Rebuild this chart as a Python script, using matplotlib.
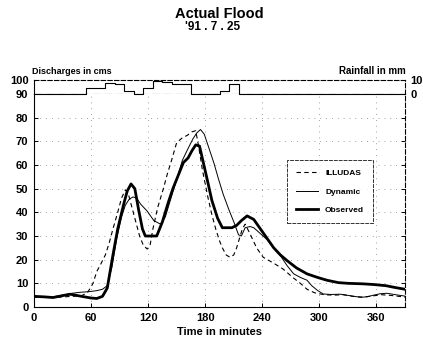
import numpy as np
import matplotlib
matplotlib.use("Agg")
import matplotlib.pyplot as plt

plt.rcParams["font.family"] = ["Liberation Sans", "DejaVu Sans"]
plt.rcParams["font.weight"] = "bold"

# discharge hydrographs (minutes, cms)
obs_t = [0, 10, 20, 30, 38, 50, 60, 66, 72, 77, 83, 88, 94, 98, 102, 106, 110, 114,
         117, 129, 135, 141, 146, 152, 157, 162, 166, 170, 174, 178, 182, 187, 193,
         198, 208, 213, 218, 224, 231, 238, 245, 252, 259, 266, 276, 287, 298, 308,
         320, 330, 345, 357, 370, 380, 390]
obs_q = [4.5, 4.3, 4.0, 4.8, 5.4, 4.5, 3.8, 3.6, 4.5, 8, 22, 33, 43, 49, 52, 50, 41, 33,
         30, 30, 36, 44, 50, 56, 61, 63, 66, 68.5, 68, 61, 54, 45, 37.5,
         33.5, 33.5, 34.5, 36.5, 38.5, 37, 33, 29, 25, 22, 19.6, 16.5, 14, 12.5, 11.3,
         10.3, 10, 9.8, 9.5, 9, 8.2, 7.5]

dyn_t = [0, 10, 20, 30, 40, 48, 58, 66, 72, 77, 82, 87, 92, 96, 100, 104, 108, 112,
         119, 126, 133, 138, 144, 150, 156, 162, 167, 171, 175, 179, 184, 189, 194,
         199, 205, 210, 215, 218, 222, 227, 231, 238, 245, 252, 259, 266, 273, 280,
         287, 292, 298, 304, 312, 322, 332, 343, 350, 357, 364, 371, 380, 390]
dyn_q = [4.5, 4.2, 4.3, 5, 5.8, 6.2, 6.5, 6.9, 7.5, 9, 17, 29, 38, 43, 45.5, 46.5, 46, 43.5,
         40.5, 36.5, 35, 38, 46, 54, 62, 67, 71, 73.5, 75, 73, 67, 61, 54,
         47.5, 41, 36, 30.5, 30, 33.5, 34, 33.5, 31, 28.5, 25, 21.7, 17.5, 14, 12.5,
         11.3, 9, 7, 5.5, 5.3, 5.4, 4.8, 4.1, 4.3, 5, 5.6, 5.8, 5.2, 4.6]

ill_t = [0, 20, 40, 50, 56, 60, 62, 66, 70, 75, 79, 83, 88, 92, 96, 99, 103, 107, 111,
         115, 119, 122, 125, 130, 136, 140, 145, 150, 156, 161, 166, 170, 173, 177,
         183, 187, 191, 195, 198, 202, 206, 210, 213, 216, 219, 222, 227, 234, 241,
         252, 262, 272, 280, 287, 295, 305, 315, 325, 335, 345, 355, 365, 375, 390]
ill_q = [4.2, 4.0, 4.5, 4.8, 6, 8.5, 10, 15, 18, 22, 27, 33, 40, 46, 49.5, 48, 42, 36, 30,
         26, 24.5, 26, 33, 42, 50, 56, 62.5, 69.5, 71.5, 72.5, 74, 74.5, 68, 58,
         46, 39, 33, 28, 25, 22, 21, 22, 25, 29, 33, 35, 31, 25, 21,
         18.5, 16, 12.5, 10, 7.5, 6, 5.2, 5, 5.2, 4.5, 4.2, 4.6, 5.2, 4.9, 4.2]

# rainfall hyetograph (step start times, mm)
rain_t = [0, 55, 65, 75, 85, 95, 105, 115, 125, 135, 145, 155, 165, 195, 205, 215, 390]
rain_mm = [0, 4, 4.3, 8, 7.2, 2.3, 0, 4, 9.3, 8.7, 7.5, 7.3, 0, 2.5, 7, 0, 0]

fig = plt.figure(figsize=(4.23, 3.46), dpi=100)

ax = fig.add_axes([34/423, 39/346, 371/423, 213/346])
ax_top = fig.add_axes([34/423, 252/346, 371/423, 14/346])

ax.plot(ill_t, ill_q, color="black", lw=0.8, ls=(0, (4, 3)), label="ILLUDAS")
ax.plot(dyn_t, dyn_q, color="black", lw=0.7, label="Dynamic")
ax.plot(obs_t, obs_q, color="black", lw=2.0, label="Observed")

ax.set_xlim(0, 390)
ax.set_ylim(0, 90)
ax.set_xticks([0, 60, 120, 180, 240, 300, 360])
ax.set_yticks([0, 10, 20, 30, 40, 50, 60, 70, 80])
ax.tick_params(direction="in", length=3, labelsize=8, width=0.7,
               right=True, top=False, pad=4)
ax.grid(True, ls=(0, (1, 6)), lw=0.6, color="0.5")
ax.spines["top"].set_visible(False)
ax.spines["right"].set_linestyle((0, (4, 2)))
for s in ax.spines.values():
    s.set_linewidth(0.8)
ax.set_xlabel("Time in minutes", fontsize=8, fontweight="bold", labelpad=3)

leg = ax.legend(loc="upper left", bbox_to_anchor=(0.67, 0.71), fontsize=6,
                frameon=True, fancybox=False, edgecolor="black",
                handlelength=2.6, labelspacing=1.3, borderpad=1.1,
                handletextpad=0.9)
leg.get_frame().set_linewidth(0.7)
leg.get_frame().set_linestyle((0, (4, 1)))
for txt in leg.get_texts():
    txt.set_fontweight("bold")

# rainfall strip on top
ax_top.axhline(0, color="black", lw=0.8, ls="-.")
ax_top.step(rain_t, rain_mm, where="post", color="black", lw=0.8, clip_on=False)
ax_top.set_xlim(0, 390)
ax_top.set_ylim(0, 10)
ax_top.set_xticks([])
ax_top.set_yticks([0, 10])
ax_top.set_yticklabels(["90", "100"])
ax_top.tick_params(direction="in", length=0, labelsize=8, pad=4)
ax_top.spines["bottom"].set_visible(False)
ax_top.spines["top"].set_linestyle((0, (4, 2)))
ax_top.spines["right"].set_linestyle((0, (4, 2)))
for s in ax_top.spines.values():
    s.set_linewidth(0.8)
ax_top.patch.set_alpha(0)

ax_r = ax_top.twinx()
ax_r.set_ylim(0, 10)
ax_r.set_yticks([0, 10])
ax_r.set_yticklabels(["0", "10"])
ax_r.tick_params(direction="in", length=0, labelsize=8, pad=4)
for s in ax_r.spines.values():
    s.set_visible(False)

fig.text(219/423, 1 - 14/346, "Actual Flood", ha="center", va="center",
         fontsize=10.5, fontweight="bold")
fig.text(213/423, 1 - 27/346, "'91 . 7 . 25", ha="center", va="center",
         fontsize=8.5, fontweight="bold")
fig.text(32/423, 1 - 71/346, "Discharges in cms", ha="left", va="center",
         fontsize=6.5, fontweight="bold")
fig.text(406/423, 1 - 71/346, "Rainfall in mm", ha="right", va="center",
         fontsize=7, fontweight="bold")

fig.savefig("out.png", dpi=100)
